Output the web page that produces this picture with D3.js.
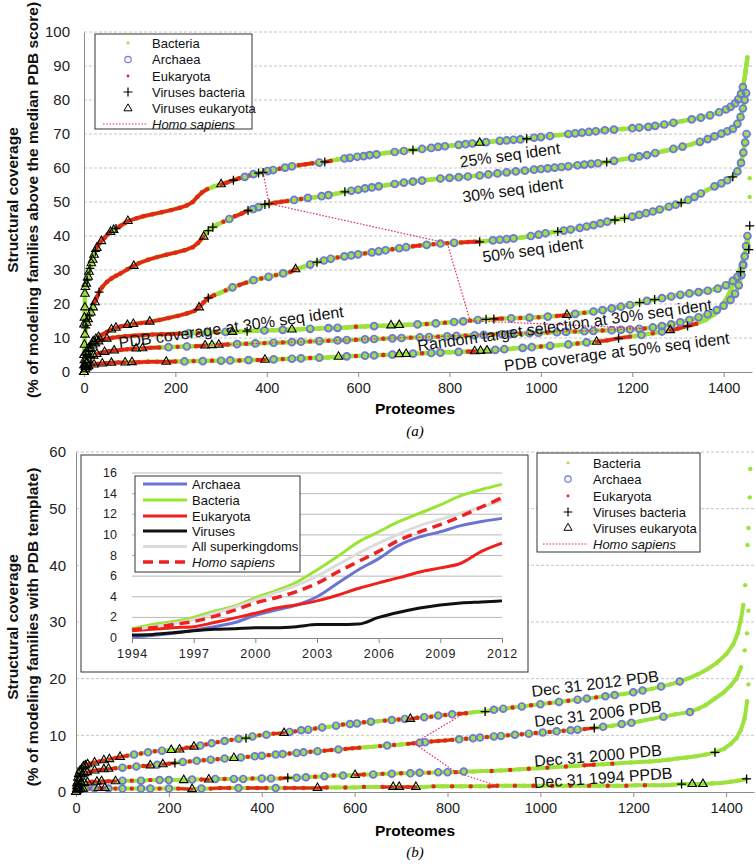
<!DOCTYPE html>
<html><head><meta charset="utf-8">
<script src="https://cdn.jsdelivr.net/npm/d3@7"></script>
<style>body{margin:0;background:#fff}</style>
</head><body>
<script>
// ---------------- DATA ----------------
// point = [proteome rank, coverage %, kind]  kind: b=Bacteria a=Archaea e=Eukaryota p=Viruses bacteria t=Viruses eukaryota
const xTicks = [0,200,400,600,800,1000,1200,1400];
const yTicksA = [0,10,20,30,40,50,60,70,80,90,100];
const yTicksB = [0,10,20,30,40,50,60];

const c25 = [[0,14,'t'],[1,16,'t'],[2,19,'t'],[2,23,'t'],[3,25,'t'],[5,26,'t'],[7,27,'p'],[9,28,'t'],[11,29.5,'t'],[13,30.5,'p'],[16,32,'t'],[19,33,'t'],[22,34.5,'t'],[25,35.5,'p'],[28,36.5,'t'],[32,37.5,'e'],[38,38.5,'t'],[45,39.5,'e'],[52,40.5,'e'],[58,41.2,'t'],[65,41.8,'t'],[70,42.2,'p'],[80,43,'e'],[90,43.8,'e'],[96,44.4,'t'],[115,45.2,'e'],[130,45.8,'e'],[150,46.4,'e'],[170,47,'e'],[190,47.6,'e'],[210,48.3,'e'],[225,49,'e'],[238,50,'e'],[248,51.5,'e'],[258,52.8,'e'],[270,53.8,'e'],[285,54.6,'b'],[300,55.2,'t'],[312,55.7,'e'],[327,56.4,'p'],[340,57,'e'],[352,57.4,'a'],[362,57.8,'e'],[371,58.2,'a'],[382,58.5,'p'],[392,58.7,'p'],[402,59.1,'a'],[414,59.4,'a'],[428,59.8,'e'],[440,60.1,'a'],[455,60.5,'a'],[470,60.8,'e'],[485,61.1,'e'],[500,61.4,'e'],[515,61.6,'a'],[527,61.8,'p'],[540,62.1,'e'],[555,62.5,'b'],[570,62.8,'a'],[582,63,'a'],[598,63.3,'a'],[612,63.5,'a'],[625,63.8,'a'],[640,64,'a'],[660,64.4,'b'],[680,64.7,'a'],[700,65,'a'],[720,65.3,'p'],[740,65.6,'a'],[760,65.9,'a'],[775,66.2,'a'],[790,66.4,'a'],[805,66.6,'b'],[820,66.8,'a'],[835,67,'a'],[850,67.2,'a'],[866,67.4,'t'],[880,67.6,'a'],[895,67.8,'b'],[910,68,'a'],[925,68.1,'a'],[940,68.3,'a'],[955,68.4,'a'],[969,68.6,'p'],[985,68.9,'a'],[1000,69.1,'a'],[1020,69.4,'a'],[1040,69.7,'b'],[1060,70,'a'],[1075,70.2,'a'],[1090,70.4,'a'],[1105,70.6,'a'],[1120,70.8,'a'],[1140,71.1,'a'],[1160,71.3,'a'],[1180,71.5,'b'],[1200,71.7,'a'],[1215,71.9,'a'],[1235,72.1,'a'],[1250,72.4,'a'],[1270,72.8,'a'],[1290,73.3,'a'],[1310,73.8,'b'],[1330,74.3,'a'],[1350,74.8,'a'],[1370,75.5,'a'],[1390,76.4,'a'],[1405,77.2,'a'],[1415,78,'a'],[1425,79,'a'],[1432,80.2,'a'],[1438,81.8,'a'],[1442,83.8,'a'],[1446,86.5,'b'],[1448,88.5,'b'],[1450,90.5,'b'],[1452,92.5,'b']];

const c30 = [[0,5,'t'],[1,8,'t'],[2,11,'t'],[4,13,'p'],[6,14.5,'t'],[9,15.5,'t'],[12,16.5,'p'],[15,17.5,'t'],[20,19,'t'],[24,20.5,'t'],[28,22,'e'],[33,23.5,'p'],[40,25,'e'],[50,26.5,'e'],[60,27.5,'e'],[70,28.3,'e'],[80,29,'e'],[95,30.2,'e'],[109,31.2,'t'],[120,32,'e'],[140,33,'e'],[160,33.8,'e'],[180,34.5,'e'],[200,35.1,'e'],[220,35.8,'e'],[238,36.7,'e'],[250,38,'e'],[262,39.8,'t'],[272,41.6,'p'],[282,42.6,'p'],[292,43.4,'b'],[305,44.2,'e'],[318,45,'a'],[330,45.8,'e'],[345,46.6,'e'],[359,47.5,'p'],[370,47.9,'a'],[382,48.5,'a'],[396,49.3,'p'],[405,49.5,'p'],[418,49.8,'e'],[432,50.1,'e'],[445,50.3,'e'],[460,50.6,'a'],[475,50.9,'e'],[490,51.2,'a'],[505,51.4,'b'],[520,51.7,'a'],[535,52,'a'],[550,52.4,'b'],[571,53,'p'],[585,53.3,'a'],[600,53.6,'a'],[615,54,'a'],[630,54.3,'a'],[645,54.6,'a'],[660,54.9,'b'],[680,55.3,'a'],[700,55.7,'a'],[720,56,'a'],[740,56.3,'a'],[760,56.6,'b'],[780,56.9,'a'],[800,57.1,'a'],[820,57.3,'a'],[840,57.5,'a'],[866,57.8,'a'],[885,58.1,'a'],[905,58.4,'a'],[925,58.7,'a'],[945,59,'a'],[965,59.2,'a'],[985,59.5,'a'],[1000,59.7,'a'],[1015,59.9,'a'],[1030,60.1,'a'],[1045,60.3,'a'],[1060,60.5,'a'],[1080,60.8,'a'],[1095,61,'a'],[1110,61.2,'a'],[1125,61.4,'a'],[1144,61.8,'p'],[1160,62.1,'a'],[1180,62.6,'b'],[1200,63,'a'],[1215,63.4,'a'],[1232,63.8,'a'],[1250,64.4,'a'],[1270,65,'b'],[1290,65.6,'a'],[1310,66.3,'a'],[1330,67,'b'],[1348,67.7,'a'],[1365,68.5,'a'],[1380,69.3,'a'],[1395,70.1,'a'],[1408,70.8,'a'],[1420,71.5,'a'],[1430,73,'a'],[1437,75,'a'],[1442,77.5,'a'],[1446,80,'a'],[1449,82,'a']];

const c50 = [[0,2,'t'],[1,3.5,'t'],[3,5,'p'],[6,6,'t'],[10,7,'t'],[14,8,'p'],[20,9,'t'],[26,9.7,'t'],[32,10.3,'t'],[40,11,'e'],[50,11.8,'e'],[60,12.5,'t'],[70,13,'t'],[80,13.4,'e'],[95,13.8,'t'],[108,14.1,'t'],[125,14.4,'e'],[144,14.8,'t'],[165,15.3,'e'],[185,15.9,'e'],[205,16.5,'e'],[225,17.2,'e'],[242,18,'e'],[252,19,'t'],[262,20.5,'e'],[272,21.8,'p'],[285,22.6,'e'],[297,23.2,'b'],[310,24,'e'],[325,24.9,'a'],[340,25.6,'e'],[355,26.3,'e'],[371,27,'a'],[388,27.5,'e'],[404,28,'a'],[420,28.5,'e'],[436,29,'a'],[451,29.4,'e'],[463,30.2,'t'],[480,30.9,'b'],[495,31.6,'a'],[510,32.3,'p'],[525,32.8,'a'],[540,33.3,'a'],[555,33.7,'e'],[570,34,'a'],[585,34.3,'a'],[600,34.6,'a'],[615,34.9,'e'],[630,35.2,'a'],[645,35.5,'a'],[660,35.8,'a'],[675,36.1,'e'],[690,36.4,'a'],[705,36.7,'a'],[720,37,'e'],[735,37.2,'e'],[750,37.4,'a'],[765,37.6,'e'],[780,37.8,'a'],[795,37.9,'e'],[810,38,'a'],[825,38.1,'e'],[840,38.2,'e'],[855,38.3,'e'],[866,38.3,'p'],[880,38.5,'b'],[895,38.7,'a'],[910,38.9,'a'],[925,39.1,'a'],[940,39.3,'a'],[960,39.6,'b'],[978,40,'a'],[995,40.4,'a'],[1010,40.8,'a'],[1037,41.3,'p'],[1050,41.6,'a'],[1065,41.9,'a'],[1085,42.4,'a'],[1100,42.8,'a'],[1115,43.2,'a'],[1130,43.7,'a'],[1145,44.2,'a'],[1162,44.7,'p'],[1183,45.2,'p'],[1200,45.7,'a'],[1215,46.2,'a'],[1230,46.7,'a'],[1245,47.2,'a'],[1260,47.8,'a'],[1280,48.6,'a'],[1295,49.2,'a'],[1307,49.8,'p'],[1322,50.6,'a'],[1336,51.5,'a'],[1350,52.5,'a'],[1365,53.6,'b'],[1380,54.6,'a'],[1395,55.5,'a'],[1408,56.4,'a'],[1420,57.4,'p'],[1430,59,'a'],[1438,61.5,'a'],[1443,64.5,'a'],[1447,67.5,'a'],[1450,70,'a']];

const pdb30 = [[0,0,'t'],[2,2,'t'],[4,3.5,'t'],[7,5,'t'],[10,6,'p'],[14,7,'t'],[19,7.8,'t'],[25,8.4,'t'],[32,9,'t'],[40,9.4,'e'],[50,9.8,'t'],[62,10.1,'e'],[75,10.3,'e'],[90,10.5,'e'],[110,10.7,'e'],[130,10.9,'e'],[150,11,'e'],[170,11.1,'e'],[190,11.2,'e'],[210,11.3,'e'],[230,11.4,'a'],[250,11.5,'e'],[270,11.6,'a'],[290,11.7,'e'],[310,11.8,'a'],[325,11.8,'t'],[340,11.9,'b'],[357,12,'p'],[375,12.1,'b'],[395,12.2,'a'],[415,12.3,'b'],[435,12.4,'a'],[455,12.5,'t'],[475,12.6,'b'],[495,12.7,'a'],[515,12.8,'b'],[535,12.9,'a'],[555,13,'a'],[575,13.1,'b'],[595,13.3,'e'],[615,13.4,'b'],[635,13.5,'a'],[655,13.6,'b'],[672,13.7,'t'],[690,13.8,'t'],[710,13.9,'b'],[730,14,'a'],[750,14.1,'e'],[770,14.3,'a'],[790,14.5,'e'],[810,14.7,'a'],[830,14.9,'a'],[845,15.1,'e'],[862,15.3,'a'],[880,15.5,'p'],[897,15.6,'p'],[915,15.7,'e'],[935,15.8,'a'],[955,15.9,'e'],[975,16,'a'],[995,16.1,'e'],[1015,16.3,'a'],[1035,16.5,'e'],[1057,16.8,'t'],[1075,17.1,'a'],[1095,17.4,'e'],[1115,17.8,'a'],[1135,18.2,'a'],[1155,18.7,'a'],[1175,19.2,'a'],[1195,19.7,'a'],[1216,20.4,'p'],[1232,20.9,'a'],[1249,21.3,'p'],[1265,21.7,'a'],[1285,22.2,'a'],[1305,22.7,'a'],[1325,23.1,'a'],[1345,23.5,'a'],[1365,23.9,'a'],[1387,24.5,'a'],[1405,25.5,'a'],[1420,26.8,'a'],[1430,28,'a'],[1437,29.5,'p'],[1442,31.5,'a'],[1446,34,'a'],[1449,37,'a'],[1452,40,'a'],[1455,36,'p'],[1457,43,'p'],[1457,51.5,'b'],[1457,57,'b']];

const rnd30 = [[0,0,'t'],[3,1.5,'t'],[6,2.6,'t'],[10,3.5,'t'],[15,4.2,'p'],[21,4.8,'t'],[28,5.3,'t'],[36,5.6,'e'],[45,5.9,'t'],[55,6.1,'e'],[66,6.3,'t'],[80,6.5,'e'],[95,6.7,'e'],[114,6.9,'t'],[128,7,'t'],[145,7.1,'e'],[165,7.2,'e'],[185,7.3,'a'],[205,7.4,'e'],[225,7.5,'a'],[245,7.6,'e'],[265,7.8,'t'],[280,7.9,'t'],[295,8,'t'],[315,8.1,'e'],[335,8.2,'a'],[355,8.3,'e'],[375,8.4,'a'],[395,8.5,'e'],[415,8.6,'a'],[435,8.7,'e'],[455,8.8,'a'],[475,8.9,'a'],[495,9,'e'],[515,9.1,'a'],[535,9.2,'e'],[555,9.3,'a'],[575,9.4,'a'],[595,9.5,'e'],[615,9.6,'a'],[635,9.7,'a'],[655,9.8,'e'],[675,9.9,'a'],[695,10,'a'],[715,10.1,'e'],[735,10.2,'a'],[755,10.3,'a'],[775,10.4,'e'],[795,10.5,'a'],[815,10.6,'a'],[835,10.7,'e'],[855,10.8,'a'],[875,10.9,'a'],[895,11,'e'],[915,11.1,'a'],[935,11.2,'a'],[955,11.3,'e'],[975,11.4,'a'],[995,11.5,'a'],[1015,11.6,'e'],[1035,11.7,'a'],[1055,11.8,'a'],[1075,11.9,'e'],[1095,12,'a'],[1115,12.1,'a'],[1135,12.2,'e'],[1155,12.3,'a'],[1175,12.4,'a'],[1195,12.5,'a'],[1215,12.7,'a'],[1227,12.8,'e'],[1245,13.1,'a'],[1265,13.5,'a'],[1285,14,'a'],[1305,14.6,'a'],[1325,15.3,'a'],[1345,16.1,'a'],[1365,17,'a'],[1385,18.2,'a'],[1400,19.5,'a'],[1415,21.2,'a'],[1425,23,'a'],[1433,25.5,'a'],[1439,28.5,'a'],[1443,31.5,'a']];

const pdb50 = [[0,0,'t'],[3,0.8,'t'],[6,1.3,'t'],[10,1.7,'t'],[15,2,'p'],[22,2.2,'t'],[30,2.4,'e'],[40,2.5,'t'],[50,2.6,'e'],[60,2.7,'t'],[75,2.8,'e'],[90,2.8,'t'],[105,2.9,'t'],[120,2.9,'e'],[140,3,'e'],[160,3,'e'],[180,3,'t'],[200,3.1,'e'],[220,3.1,'a'],[240,3.2,'e'],[260,3.2,'a'],[280,3.3,'e'],[300,3.3,'a'],[320,3.4,'a'],[340,3.4,'e'],[360,3.5,'a'],[380,3.5,'e'],[396,3.6,'t'],[415,3.7,'a'],[435,3.8,'e'],[455,3.9,'a'],[475,4,'a'],[495,4.1,'e'],[515,4.2,'a'],[535,4.3,'b'],[557,4.5,'t'],[575,4.6,'a'],[595,4.7,'e'],[615,4.8,'a'],[635,4.9,'a'],[655,5,'e'],[675,5.1,'a'],[690,5.2,'t'],[705,5.3,'t'],[720,5.4,'a'],[740,5.5,'e'],[760,5.6,'a'],[780,5.7,'a'],[800,5.8,'b'],[820,5.9,'a'],[840,6,'e'],[855,6.1,'t'],[868,6.2,'t'],[882,6.3,'t'],[900,6.5,'a'],[920,6.7,'a'],[940,6.9,'b'],[960,7.1,'a'],[980,7.3,'a'],[1000,7.5,'e'],[1020,7.7,'a'],[1040,7.9,'b'],[1060,8.1,'a'],[1080,8.4,'e'],[1100,8.7,'a'],[1122,8.9,'t'],[1145,9.3,'e'],[1170,9.9,'p'],[1195,10.4,'e'],[1220,10.9,'a'],[1245,11.4,'e'],[1265,11.9,'a'],[1283,12.3,'t'],[1300,12.8,'e'],[1321,13.5,'p'],[1340,14.2,'e'],[1360,15.3,'b'],[1380,17,'b'],[1396,19.5,'b'],[1410,22.5,'b'],[1422,26,'b'],[1432,29,'b'],[1440,32,'b'],[1446,35,'b']];

const homoA = [[392,58.7],[405,49.5],[795,37.9],[845,15.1],[1227,12.8],[265,7.8]];

const b2012 = [[0,0,'t'],[2,1.5,'t'],[4,2.5,'t'],[6,3.2,'t'],[9,3.8,'t'],[12,4.2,'p'],[16,4.5,'t'],[20,4.7,'t'],[25,4.9,'t'],[30,5,'e'],[40,5.2,'t'],[50,5.4,'e'],[60,5.6,'t'],[72,5.8,'t'],[85,6,'e'],[95,6.2,'t'],[110,6.4,'e'],[125,6.6,'a'],[140,6.8,'e'],[155,7,'a'],[170,7.2,'e'],[185,7.3,'a'],[205,7.4,'t'],[223,7.5,'t'],[238,7.8,'e'],[254,8,'t'],[268,8.2,'a'],[280,8.4,'e'],[292,8.6,'a'],[305,8.8,'e'],[320,9,'a'],[335,9.2,'e'],[350,9.4,'a'],[366,9.5,'p'],[380,9.8,'a'],[395,10,'e'],[410,10.1,'a'],[425,10.3,'e'],[448,10.4,'t'],[460,10.6,'a'],[472,10.7,'e'],[485,10.9,'a'],[500,11,'a'],[515,11.2,'e'],[530,11.4,'a'],[545,11.5,'b'],[560,11.7,'a'],[575,11.9,'e'],[590,12,'a'],[605,12.1,'a'],[620,12.3,'e'],[635,12.4,'a'],[650,12.5,'b'],[665,12.6,'e'],[680,12.7,'a'],[695,12.8,'e'],[708,12.9,'a'],[720,12.9,'t'],[735,13.1,'e'],[750,13.2,'a'],[765,13.3,'e'],[780,13.5,'a'],[795,13.6,'e'],[810,13.7,'a'],[825,13.8,'e'],[840,13.9,'e'],[860,14.1,'b'],[881,14.2,'p'],[900,14.5,'a'],[920,14.7,'a'],[940,14.9,'e'],[960,15.1,'a'],[980,15.3,'e'],[1000,15.5,'a'],[1020,15.7,'e'],[1040,15.9,'a'],[1060,16.1,'e'],[1080,16.3,'a'],[1100,16.5,'a'],[1120,16.7,'e'],[1140,16.9,'a'],[1160,17.1,'a'],[1180,17.3,'b'],[1200,17.6,'a'],[1220,17.9,'a'],[1240,18.2,'b'],[1260,18.6,'a'],[1280,19,'b'],[1300,19.5,'a'],[1320,20.1,'b'],[1340,20.8,'b'],[1360,21.7,'b'],[1380,22.8,'b'],[1400,24.3,'b'],[1415,26,'b'],[1425,28,'b'],[1432,30.5,'b'],[1437,33,'b'],[1441,36.5,'b'],[1446,43.6,'b'],[1448,46.6,'b'],[1451,52,'b'],[1452,57,'b']];

const b2006 = [[0,0,'t'],[2,1,'t'],[4,1.8,'t'],[7,2.4,'t'],[10,2.8,'p'],[14,3.1,'t'],[18,3.3,'t'],[24,3.5,'t'],[30,3.6,'e'],[40,3.8,'t'],[50,3.9,'e'],[60,4,'t'],[70,4.1,'t'],[85,4.2,'e'],[100,4.3,'a'],[115,4.4,'e'],[130,4.5,'a'],[145,4.6,'e'],[160,4.7,'t'],[175,4.8,'a'],[187,4.9,'t'],[200,5,'e'],[213,5.1,'p'],[230,5.3,'a'],[245,5.4,'e'],[260,5.5,'a'],[275,5.6,'e'],[290,5.7,'a'],[305,5.8,'e'],[320,5.9,'a'],[340,6,'t'],[355,6.1,'a'],[370,6.2,'e'],[385,6.3,'a'],[400,6.4,'a'],[415,6.5,'e'],[430,6.6,'a'],[445,6.7,'a'],[460,6.8,'e'],[475,6.9,'a'],[490,7,'a'],[505,7.1,'e'],[520,7.2,'a'],[535,7.3,'e'],[550,7.4,'e'],[565,7.5,'a'],[580,7.6,'e'],[595,7.7,'e'],[610,7.8,'e'],[625,7.9,'b'],[640,8,'b'],[655,8.1,'e'],[670,8.2,'a'],[685,8.3,'e'],[700,8.4,'b'],[715,8.5,'e'],[728,8.6,'e'],[740,8.7,'a'],[752,8.8,'a'],[765,8.9,'e'],[780,9,'e'],[795,9.1,'e'],[810,9.2,'e'],[825,9.3,'a'],[840,9.4,'e'],[855,9.5,'a'],[870,9.6,'a'],[885,9.7,'e'],[900,9.8,'a'],[915,9.9,'a'],[930,10,'e'],[945,10.1,'a'],[960,10.2,'e'],[975,10.3,'a'],[990,10.4,'e'],[1005,10.5,'a'],[1020,10.6,'e'],[1035,10.7,'a'],[1050,10.8,'e'],[1065,10.9,'a'],[1080,11,'a'],[1095,11.1,'e'],[1116,11.3,'p'],[1135,11.5,'a'],[1155,11.7,'b'],[1175,12,'a'],[1196,12.2,'a'],[1215,12.5,'b'],[1240,12.9,'b'],[1265,13.3,'a'],[1290,13.7,'b'],[1322,14.1,'a'],[1340,14.7,'b'],[1355,15.3,'b'],[1376,16.5,'b'],[1395,17.6,'b'],[1410,18.8,'b'],[1422,20,'b'],[1432,22,'b'],[1440,25,'b'],[1445,28,'b'],[1448,32,'b']];

const b2000 = [[0,0,'t'],[2,0.6,'t'],[5,1,'t'],[8,1.3,'p'],[12,1.5,'t'],[18,1.6,'t'],[25,1.7,'t'],[35,1.8,'e'],[45,1.8,'t'],[55,1.9,'t'],[70,1.9,'e'],[85,1.9,'t'],[100,2,'a'],[120,2,'e'],[140,2,'a'],[160,2.1,'e'],[180,2.1,'a'],[200,2.1,'a'],[232,2.1,'t'],[250,2.2,'a'],[270,2.2,'e'],[286,2.2,'t'],[300,2.3,'a'],[320,2.3,'e'],[340,2.3,'a'],[360,2.3,'a'],[380,2.4,'e'],[400,2.4,'a'],[420,2.4,'a'],[440,2.4,'e'],[456,2.5,'p'],[475,2.5,'a'],[495,2.6,'a'],[515,2.7,'e'],[535,2.8,'a'],[555,2.9,'e'],[575,2.9,'a'],[601,3,'t'],[620,3.1,'e'],[640,3.1,'a'],[660,3.2,'e'],[680,3.2,'a'],[700,3.3,'e'],[720,3.3,'a'],[740,3.4,'a'],[760,3.4,'e'],[780,3.5,'a'],[800,3.5,'a'],[818,3.5,'e'],[835,3.6,'a'],[855,3.6,'b'],[875,3.7,'b'],[895,3.7,'e'],[915,3.8,'b'],[935,3.9,'e'],[955,4,'b'],[975,4.1,'e'],[995,4.2,'b'],[1015,4.3,'e'],[1035,4.4,'b'],[1055,4.5,'e'],[1075,4.6,'b'],[1095,4.7,'e'],[1115,4.8,'e'],[1135,4.9,'b'],[1155,5,'e'],[1175,5.1,'b'],[1195,5.2,'b'],[1215,5.3,'b'],[1235,5.4,'b'],[1255,5.5,'b'],[1275,5.7,'b'],[1295,5.9,'b'],[1315,6.1,'b'],[1335,6.3,'b'],[1355,6.6,'b'],[1376,7,'p'],[1395,7.6,'b'],[1410,8.5,'b'],[1422,9.5,'b'],[1432,11,'b'],[1440,13,'b'],[1445,16,'b'],[1448,19,'b']];

const b1994 = [[0,0,'t'],[3,0.3,'t'],[6,0.5,'t'],[10,0.6,'t'],[15,0.6,'t'],[20,0.6,'a'],[30,0.6,'e'],[40,0.6,'a'],[48,0.7,'t'],[55,0.6,'e'],[62,0.7,'t'],[70,0.6,'a'],[85,0.6,'e'],[100,0.6,'a'],[120,0.6,'e'],[140,0.6,'a'],[160,0.6,'a'],[180,0.6,'e'],[200,0.6,'a'],[220,0.6,'e'],[250,0.5,'t'],[270,0.6,'a'],[290,0.6,'e'],[310,0.7,'e'],[330,0.7,'e'],[350,0.7,'a'],[370,0.7,'e'],[390,0.7,'e'],[410,0.7,'e'],[430,0.7,'a'],[450,0.7,'e'],[470,0.7,'e'],[490,0.7,'e'],[520,0.7,'t'],[540,0.8,'e'],[560,0.8,'b'],[580,0.8,'e'],[600,0.8,'b'],[620,0.9,'e'],[640,0.9,'b'],[660,0.9,'e'],[683,0.9,'t'],[696,0.9,'t'],[715,0.9,'e'],[732,0.9,'t'],[750,0.9,'b'],[770,1,'e'],[790,1,'b'],[810,1,'e'],[830,1,'b'],[850,1,'e'],[870,1,'b'],[890,1,'e'],[907,1.1,'e'],[925,1.1,'b'],[945,1.1,'e'],[965,1.1,'b'],[985,1.1,'e'],[1005,1.1,'b'],[1025,1.1,'e'],[1045,1.1,'b'],[1065,1.1,'e'],[1085,1.1,'b'],[1105,1.1,'e'],[1125,1.1,'b'],[1145,1.1,'e'],[1165,1.1,'b'],[1185,1.1,'e'],[1205,1.2,'b'],[1225,1.2,'e'],[1245,1.2,'b'],[1265,1.2,'b'],[1285,1.3,'b'],[1304,1.4,'p'],[1327,1.4,'t'],[1350,1.4,'t'],[1370,1.5,'b'],[1390,1.6,'b'],[1410,1.8,'b'],[1425,2,'b'],[1444,2.3,'p']];

const homoB = [[836,13.9],[728,8.6],[818,3.5],[907,1.1]];

// inset: structural coverage by year
const years = [1994,1995,1996,1997,1998,1999,2000,2001,2002,2003,2004,2005,2006,2007,2008,2009,2010,2011,2012];
const yearTicks = [1994,1997,2000,2003,2006,2009,2012];
const insetYTicks = [0,2,4,6,8,10,12,14,16];
const insArchaea   = [0.1,0.25,0.45,0.75,1.1,1.5,2.2,2.7,3.2,4.0,5.3,6.6,7.7,9.0,9.8,10.3,10.9,11.3,11.6];
const insBacteria  = [0.9,1.3,1.6,2.0,2.6,3.1,3.9,4.6,5.4,6.6,7.9,9.3,10.3,11.3,12.1,12.9,13.8,14.4,14.9];
const insEukaryota = [0.7,0.85,1.0,1.1,1.5,1.95,2.4,2.9,3.2,3.6,4.15,4.8,5.35,5.85,6.4,6.8,7.25,8.4,9.2];
const insViruses   = [0.3,0.35,0.5,0.7,0.85,0.9,1.0,1.0,1.1,1.3,1.3,1.35,2.0,2.5,2.9,3.2,3.4,3.5,3.6];
const insAll       = [0.8,1.1,1.4,1.8,2.4,3.0,3.7,4.4,5.1,6.0,7.1,8.2,9.2,10.1,10.9,11.5,12.1,12.7,13.3];
const insHomo      = [0.8,1.0,1.3,1.6,2.1,2.7,3.4,3.9,4.5,5.3,6.4,7.4,8.4,9.5,10.3,11.0,11.8,12.7,13.6];

// ---------------- DRAWING ----------------
const W = 756, H = 866;
const SANS = "'Liberation Sans', Arial, Helvetica, sans-serif";
const GREEN = '#9de23c', BLUE = '#6e79d4', RED = '#e8231d', GRID = '#c4c4c4', AX = '#8c8c8c', HOMO = '#e0306a';
const svg = d3.select('body').append('svg').attr('width', W).attr('height', H)
  .style('font-family', SANS);

function grid(g, x, y, ticks, x0, x1) {
  g.selectAll(null).data(ticks.filter(v => v > 0)).join('line')
    .attr('x1', x(x0)).attr('x2', x(x1)).attr('y1', d => y(d)).attr('y2', d => y(d))
    .attr('stroke', GRID).attr('stroke-width', 1).attr('stroke-dasharray', '3,2');
}

function axes(g, x, y, yt, ytPad) {
  const ax = g.append('g').attr('transform', `translate(0,${y(0)})`)
    .call(d3.axisBottom(x).tickValues(xTicks).tickFormat(d3.format('d')).tickSize(5).tickSizeOuter(0).tickPadding(6));
  ax.select('.domain').attr('stroke', AX);
  ax.selectAll('.tick line').attr('stroke', AX);
  ax.selectAll('text').attr('font-size', 14.5).attr('fill', '#222').attr('font-family', SANS);
  const ay = g.append('g').attr('transform', `translate(${x(0)},0)`)
    .call(d3.axisLeft(y).tickValues(yt).tickSize(0).tickPadding(ytPad));
  ay.select('.domain').attr('stroke', AX);
  ay.selectAll('text').attr('font-size', 15).attr('fill', '#222').attr('font-family', SANS);
}

function isRedish(k) { return k === 'e' || k === 't' || k === 'p'; }

function curves(g, list, x, y, lw, r) {
  // green band through consecutive points, broken where the curve turns into sparse vertical tails
  const gsegs = [];
  list.forEach(c => { for (let i = 0; i < c.length - 1; i++) {
    const a = c[i], b = c[i + 1];
    if (Math.abs(y(b[1]) - y(a[1])) < 17) gsegs.push([a, b]);
  }});
  g.selectAll(null).data(gsegs).join('line')
    .attr('x1', d => x(d[0][0])).attr('y1', d => y(d[0][1]))
    .attr('x2', d => x(d[1][0])).attr('y2', d => y(d[1][1]))
    .attr('stroke', GREEN).attr('stroke-width', lw).attr('stroke-linecap', 'round');
  const all = list.flat();
  g.selectAll(null).data(all.filter(d => d[2] === 'b')).join('circle')
    .attr('cx', d => x(d[0])).attr('cy', d => y(d[1])).attr('r', 2.2).attr('fill', GREEN);
  // red (eukaryota-dense) segments
  const segs = [];
  list.forEach(c => { for (let i = 0; i < c.length - 1; i++) {
    const a = c[i], b = c[i + 1];
    if (isRedish(a[2]) && isRedish(b[2]) && (a[2] === 'e' || b[2] === 'e')) segs.push([a, b]);
  }});
  g.selectAll(null).data(segs).join('line')
    .attr('x1', d => x(d[0][0])).attr('y1', d => y(d[0][1]))
    .attr('x2', d => x(d[1][0])).attr('y2', d => y(d[1][1]))
    .attr('stroke', RED).attr('stroke-width', lw - 1).attr('stroke-linecap', 'round');
  g.selectAll(null).data(all.filter(d => d[2] === 'e')).join('circle')
    .attr('cx', d => x(d[0])).attr('cy', d => y(d[1])).attr('r', 2.2).attr('fill', RED);
  g.selectAll(null).data(all.filter(d => d[2] === 'a')).join('circle')
    .attr('cx', d => x(d[0])).attr('cy', d => y(d[1])).attr('r', r)
    .attr('fill', 'none').attr('stroke', BLUE).attr('stroke-width', 1.9);
  g.selectAll(null).data(all.filter(d => d[2] === 'p')).join('path')
    .attr('transform', d => `translate(${x(d[0])},${y(d[1])})`)
    .attr('d', 'M-4.5,0H4.5M0,-4.5V4.5').attr('stroke', '#000').attr('stroke-width', 1.3);
  g.selectAll(null).data(all.filter(d => d[2] === 't')).join('path')
    .attr('transform', d => `translate(${x(d[0])},${y(d[1])})`)
    .attr('d', d3.symbol(d3.symbolTriangle, 32)).attr('fill', 'none').attr('stroke', '#000').attr('stroke-width', 1.1);
}

function homo(g, pts, x, y) {
  g.append('path').attr('d', d3.line().x(d => x(d[0])).y(d => y(d[1]))(pts))
    .attr('fill', 'none').attr('stroke', HOMO).attr('stroke-width', 1.2).attr('stroke-dasharray', '1.6,1.6');
}

function label(g, txt, px, py, rot, size) {
  g.append('text').attr('transform', `translate(${px},${py}) rotate(${rot})`)
    .attr('text-anchor', 'middle').attr('dominant-baseline', 'central')
    .attr('font-size', size).attr('fill', '#111').text(txt);
}

function legend(g, bx, by, bw, bh, mx, tx, rows) {
  g.append('rect').attr('x', bx).attr('y', by).attr('width', bw).attr('height', bh)
    .attr('fill', '#fff').attr('stroke', '#333').attr('stroke-width', 1);
  const items = ['Bacteria', 'Archaea', 'Eukaryota', 'Viruses bacteria', 'Viruses eukaryota', 'Homo sapiens'];
  items.forEach((t, i) => {
    const yy = rows[i];
    g.append('text').attr('x', tx).attr('y', yy).attr('dominant-baseline', 'central')
      .attr('font-size', 13).attr('fill', '#111').attr('font-style', i === 5 ? 'italic' : 'normal').text(t);
  });
  g.append('circle').attr('cx', mx).attr('cy', rows[0]).attr('r', 1.4).attr('fill', GREEN);
  g.append('circle').attr('cx', mx).attr('cy', rows[1]).attr('r', 3.2).attr('fill', 'none').attr('stroke', BLUE).attr('stroke-width', 1.2);
  g.append('circle').attr('cx', mx).attr('cy', rows[2]).attr('r', 1.4).attr('fill', RED);
  g.append('path').attr('transform', `translate(${mx},${rows[3]})`).attr('d', 'M-4.5,0H4.5M0,-4.5V4.5').attr('stroke', '#000').attr('stroke-width', 1.2);
  g.append('path').attr('transform', `translate(${mx},${rows[4]})`).attr('d', d3.symbol(d3.symbolTriangle, 28)).attr('fill', 'none').attr('stroke', '#000').attr('stroke-width', 1);
  g.append('line').attr('x1', mx - 25).attr('x2', mx + 20).attr('y1', rows[5]).attr('y2', rows[5])
    .attr('stroke', HOMO).attr('stroke-width', 1).attr('stroke-dasharray', '1.6,1.6');
}

function yTitle(g, cx, cy, l1, l2) {
  g.append('text').attr('transform', `translate(${cx},${cy}) rotate(-90)`).attr('text-anchor', 'middle')
    .attr('font-weight', 'bold').attr('font-size', 15.5).attr('fill', '#111').text(l1);
  g.append('text').attr('transform', `translate(${cx + 20},${cy}) rotate(-90)`).attr('text-anchor', 'middle')
    .attr('font-weight', 'bold').attr('font-size', 15.5).attr('fill', '#111').text(l2);
}

// ===== Panel (a) =====
const xA = d3.scaleLinear().domain([0, 1462]).range([84, 752]);
const yA = d3.scaleLinear().domain([0, 100]).range([372, 32]);
const gA = svg.append('g');
grid(gA, xA, yA, yTicksA, 0, 1462);
axes(gA, xA, yA, yTicksA, 14);
curves(gA, [c25, c30, c50, pdb30, rnd30, pdb50], xA, yA, 4.5, 3.4);
homo(gA, homoA, xA, yA);
const rotA = -8;
label(gA, '25% seq ident', xA(932), yA(63.8), rotA, 16);
label(gA, '30% seq ident', xA(938), yA(53.5), rotA, 16);
label(gA, '50% seq ident', xA(982), yA(35.9), rotA, 16);
label(gA, 'PDB coverage at 30% seq ident', xA(322), yA(13.2), rotA, 16);
label(gA, 'Random target selection at 30% seq ident', xA(1052), yA(13.8), rotA, 16);
label(gA, 'PDB coverage at 50% seq ident', xA(1166), yA(5.9), -7, 16);
legend(gA, 95, 34, 157, 95, 128, 152, [43, 59.5, 76, 92, 108.5, 124]);
yTitle(gA, 18, 200, 'Structural coverage', '(% of modeling families above the median PDB score)');
gA.append('text').attr('x', 415).attr('y', 414).attr('text-anchor', 'middle').attr('font-weight', 'bold').attr('font-size', 15.5).text('Proteomes');
gA.append('text').attr('x', 415).attr('y', 436).attr('text-anchor', 'middle').attr('font-style', 'italic')
  .attr('font-family', "'Liberation Serif', serif").attr('font-size', 15).text('(a)');

// ===== Panel (b) =====
const xB = d3.scaleLinear().domain([0, 1460]).range([76, 754]);
const yB = d3.scaleLinear().domain([0, 60]).range([792, 452]);
const gB = svg.append('g');
grid(gB, xB, yB, yTicksB, 0, 1460);
axes(gB, xB, yB, yTicksB, 10);
curves(gB, [b2012, b2006, b2000, b1994], xB, yB, 4, 3.3);
homo(gB, homoB, xB, yB);
label(gB, 'Dec 31 2012 PDB', xB(1118), yB(19.1), -7, 16);
label(gB, 'Dec 31 2006 PDB', xB(1124), yB(13.8), -7, 16);
label(gB, 'Dec 31 2000 PDB', xB(1124), yB(6.4), -5, 16);
label(gB, 'Dec 31 1994 PPDB', xB(1135), yB(2.5), -4, 16);
legend(gB, 537, 453, 163, 99, 568, 593, [463, 479, 496, 512, 528, 544]);
yTitle(gB, 18, 627, 'Structural coverage', '(% of modeling families with PDB template)');
gB.append('text').attr('x', 415).attr('y', 836).attr('text-anchor', 'middle').attr('font-weight', 'bold').attr('font-size', 15.5).text('Proteomes');
gB.append('text').attr('x', 415).attr('y', 857).attr('text-anchor', 'middle').attr('font-style', 'italic')
  .attr('font-family', "'Liberation Serif', serif").attr('font-size', 15).text('(b)');

// ===== Inset =====
const gI = svg.append('g');
gI.append('rect').attr('x', 81).attr('y', 455).attr('width', 447).attr('height', 217)
  .attr('fill', '#fff').attr('stroke', '#333').attr('stroke-width', 1);
const xI = d3.scaleLinear().domain([1994, 2012]).range([132, 502]);
const yI = d3.scaleLinear().domain([0, 16]).range([638, 473]);
gI.selectAll(null).data(insetYTicks.filter(v => v > 0)).join('line')
  .attr('x1', xI(1994)).attr('x2', xI(2012)).attr('y1', d => yI(d)).attr('y2', d => yI(d))
  .attr('stroke', '#b8b8b8').attr('stroke-width', 1);
const axI = gI.append('g').attr('transform', `translate(0,${yI(0)})`)
  .call(d3.axisBottom(xI).tickValues(yearTicks).tickFormat(d3.format('d')).tickSize(5).tickSizeOuter(0).tickPadding(6));
axI.select('.domain').attr('stroke', '#888');
axI.selectAll('.tick line').attr('stroke', '#888');
axI.selectAll('text').attr('font-size', 12.5).attr('fill', '#222').attr('font-family', SANS).attr('letter-spacing', 0.8);
gI.selectAll(null).data(insetYTicks).join('text')
  .attr('x', 117).attr('y', d => yI(d)).attr('text-anchor', 'end').attr('dominant-baseline', 'central')
  .attr('font-size', 12.5).attr('fill', '#222').text(d => d);
const insSeries = [
  {name: 'Archaea', v: insArchaea, c: '#6a74d2', dash: null},
  {name: 'Bacteria', v: insBacteria, c: '#99e532', dash: null},
  {name: 'Eukaryota', v: insEukaryota, c: '#f0201a', dash: null},
  {name: 'Viruses', v: insViruses, c: '#111', dash: null},
  {name: 'All superkingdoms', v: insAll, c: '#dcdcdc', dash: null},
  {name: 'Homo sapiens', v: insHomo, c: '#ee2020', dash: '10,6'}
];
const lineI = d3.line().x((d, i) => xI(years[i])).y(d => yI(d)).curve(d3.curveMonotoneX);
insSeries.forEach(s => {
  gI.append('path').attr('d', lineI(s.v)).attr('fill', 'none').attr('stroke', s.c)
    .attr('stroke-width', s.dash ? 3.5 : 3).attr('stroke-dasharray', s.dash);
});
gI.append('rect').attr('x', 135).attr('y', 476).attr('width', 165).attr('height', 96)
  .attr('fill', '#fff').attr('stroke', '#333').attr('stroke-width', 1);
const rowsI = [484, 500, 516, 531, 546.5, 562];
insSeries.forEach((s, i) => {
  gI.append('line').attr('x1', 143).attr('x2', 187).attr('y1', rowsI[i]).attr('y2', rowsI[i])
    .attr('stroke', s.c).attr('stroke-width', s.dash ? 3.5 : 3).attr('stroke-dasharray', s.dash);
  gI.append('text').attr('x', 192).attr('y', rowsI[i]).attr('dominant-baseline', 'central')
    .attr('font-size', 13).attr('fill', '#111').attr('font-style', i === 5 ? 'italic' : 'normal').text(s.name);
});
</script>
</body></html>
